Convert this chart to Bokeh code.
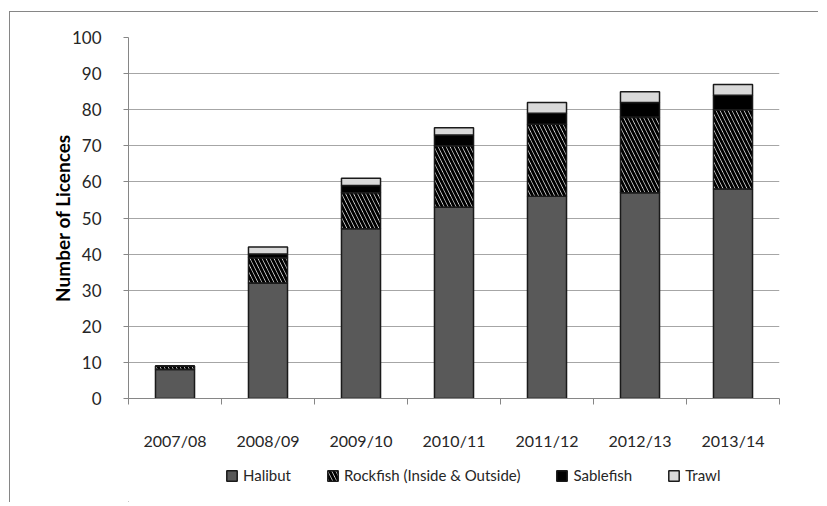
from bokeh.plotting import figure
from bokeh.layouts import column
from bokeh.models import FixedTicker, Legend, LegendItem, Range1d
from bokeh.embed import file_html
from bokeh.resources import INLINE

years = ["2007/08", "2008/09", "2009/10", "2010/11", "2011/12", "2012/13", "2013/14"]
halibut = [8, 32, 47, 53, 56, 57, 58]
rockfish = [1, 7, 10, 17, 20, 21, 22]
sablefish = [0, 1, 2, 3, 3, 4, 4]
trawl = [0, 2, 2, 2, 3, 3, 3]
series_labels = ["Halibut", "Rockfish (Inside & Outside)", "Sablefish", "Trawl"]
y_ticks = list(range(0, 101, 10))

FONT = "Lato"
FILLS = ["#595959", "white", "black", "#d9d9d9"]
HATCH = [None, "\\", None, None]
x = [i + 0.5 for i in range(len(years))]

p = figure(frame_width=650, frame_height=360, output_backend="svg", toolbar_location=None,
           x_range=Range1d(0, len(years)), y_range=Range1d(0, 100),
           min_border_left=118, min_border_top=25, min_border_right=40, min_border_bottom=60)
p.styles = {"border-left": "1px solid #868686", "border-top": "1px solid #868686",
            "margin-left": "9px", "margin-top": "11px"}
p.outline_line_color = None
p.background_fill_color = "white"
p.border_fill_color = "white"

data = dict(x=x, halibut=halibut, rockfish=rockfish, sablefish=sablefish, trawl=trawl)
stack = ["halibut", "rockfish", "sablefish", "trawl"]
r = p.vbar_stack(stack, x="x", width=0.42, source=data,
                 color=FILLS, line_color="#1a1a1a", line_width=1.5)
r[1].glyph.hatch_pattern = "\\"
r[1].glyph.hatch_color = "black"
r[1].glyph.hatch_scale = 8
r[1].glyph.hatch_weight = 3

# x axis: labels at category centres, tick marks at category boundaries
p.xaxis.ticker = FixedTicker(ticks=x, minor_ticks=list(range(len(years) + 1)))
p.xaxis.major_label_overrides = {xx: yr for xx, yr in zip(x, years)}
p.xaxis.major_tick_line_color = None
p.xaxis.minor_tick_line_color = "#868686"
p.xaxis.minor_tick_in = 0
p.xaxis.minor_tick_out = 6
p.xaxis.axis_line_color = "#868686"
p.xaxis.major_label_standoff = 26
p.xaxis.major_label_text_font = FONT
p.xaxis.major_label_text_font_size = "16px"
p.xaxis.major_label_text_color = "#262626"

# y axis
p.yaxis.ticker = FixedTicker(ticks=y_ticks)
p.yaxis.minor_tick_line_color = None
p.yaxis.major_tick_in = 0
p.yaxis.major_tick_out = 5
p.yaxis.major_tick_line_color = "#868686"
p.yaxis.axis_line_color = "#868686"
p.yaxis.major_label_text_font = FONT
p.yaxis.major_label_text_font_size = "17px"
p.yaxis.major_label_text_color = "#262626"
p.yaxis.major_label_standoff = 22
p.yaxis.axis_label = "Number of Licences"
p.yaxis.axis_label_text_font = FONT
p.yaxis.axis_label_text_font_size = "19px"
p.yaxis.axis_label_text_font_style = "bold"
p.yaxis.axis_label_text_color = "black"
p.yaxis.axis_label_standoff = -5

p.xgrid.grid_line_color = None
p.ygrid.grid_line_color = "#a6a6a6"
p.ygrid.grid_line_width = 1

# legend strip below the chart
q = figure(width=808, height=45, output_backend="svg", toolbar_location=None,
           x_range=Range1d(0, 1), y_range=Range1d(0, 1),
           min_border_left=0, min_border_right=0, min_border_top=0, min_border_bottom=0)
q.styles = {"border-left": "1px solid #868686", "margin-left": "9px"}
q.axis.visible = False
q.grid.grid_line_color = None
q.outline_line_color = None
q.background_fill_color = "white"
q.border_fill_color = "white"

items = []
for lab, fc, hp in zip(series_labels, FILLS, HATCH):
    kw = dict(hatch_pattern=hp, hatch_color="black", hatch_scale=8, hatch_weight=3) if hp else {}
    # legend swatch renderer, kept outside the visible range of the strip
    rr = q.vbar(x=[-5], top=[0], width=0.1, fill_color=fc, line_color="#1a1a1a",
                line_width=1.5, **kw)
    items.append(LegendItem(label=lab, renderers=[rr]))

legend = Legend(items=items, orientation="horizontal", location=(97, 18),
                label_text_font=FONT, label_text_font_size="15px", label_text_color="#262626",
                glyph_width=13, glyph_height=13, label_standoff=5, spacing=35,
                border_line_color=None, background_fill_alpha=0, padding=4, margin=0)
q.add_layout(legend, "center")

layout = column(p, q, spacing=0)
open("out.html", "w").write(file_html(layout, INLINE))
